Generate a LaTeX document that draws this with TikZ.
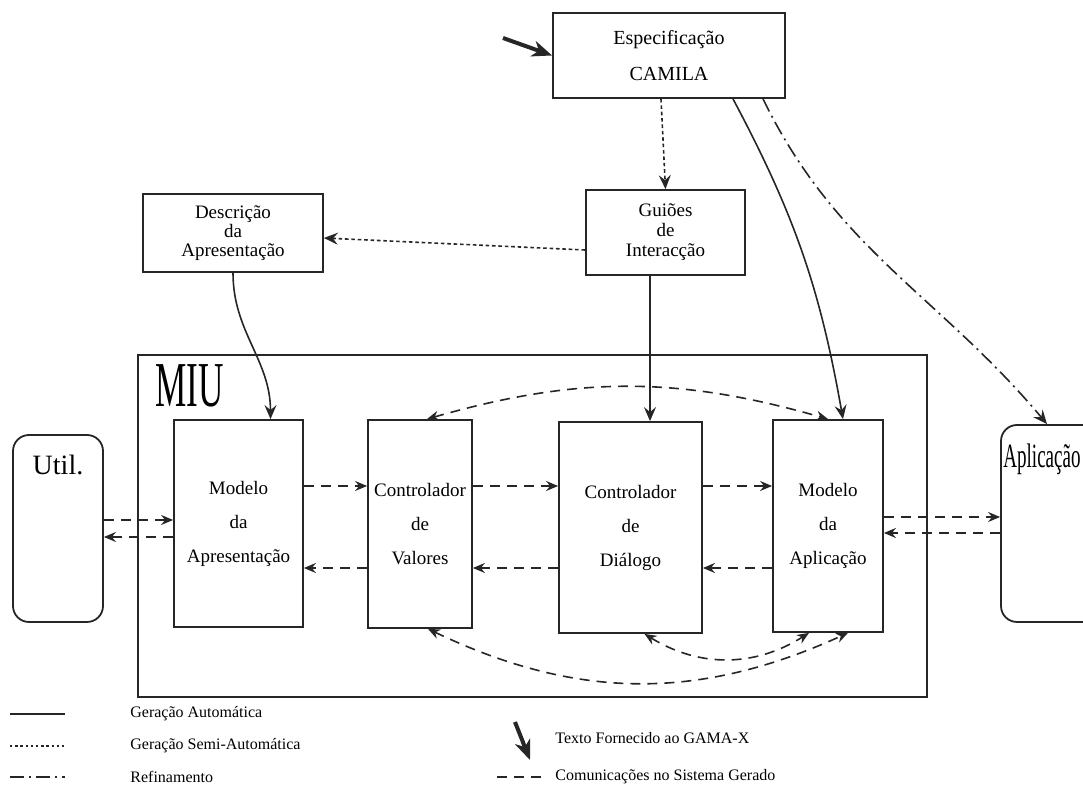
\documentclass[tikz,border=0pt]{standalone}
\usepackage{fontspec}
\setmainfont{Liberation Serif}
\usetikzlibrary{arrows.meta}

\begin{document}
\begin{tikzpicture}[x=0.5pt,y=-0.5pt,
    box/.style={draw=black!85,line width=0.9pt,align=center,inner sep=0pt,font=\fontsize{9.5}{17}\selectfont},
    rbox/.style={draw=black!85,line width=0.9pt,rounded corners=8pt,inner sep=0pt},
    seta/.style={-{Stealth[length=7pt,width=6pt,inset=2.5pt]}},
    gauto/.style={seta,draw=black!85,line width=0.8pt},
    gsemi/.style={seta,draw=black!85,line width=0.8pt,dash pattern=on 1.8pt off 1.4pt},
    refin/.style={seta,draw=black!85,line width=0.8pt,dash pattern=on 7pt off 2.5pt on 1pt off 2.5pt},
    comm/.style={-{Stealth[length=6pt,width=5pt,inset=2pt]},draw=black!85,line width=0.8pt,dash pattern=on 5pt off 3.5pt},
    commboth/.style={comm,{Stealth[length=6pt,width=5pt,inset=2pt]}-{Stealth[length=6pt,width=5pt,inset=2pt]}},
    given/.style={-{Stealth[length=10pt,width=8pt,inset=3pt]},draw=black!85,line width=2pt},
    legtxt/.style={anchor=west,inner sep=0pt,font=\fontsize{8}{8}\selectfont}]
  \useasboundingbox (0,0) rectangle (1083,785);
  \clip (0,0) rectangle (1083,785);

  % caixas de cima
  \node[box,minimum width=116pt,minimum height=42.5pt,font=\fontsize{10}{18}\selectfont] (spec) at (669,55.5) {Especificação\\CAMILA};
  \node[box,minimum width=79.5pt,minimum height=42.5pt,font=\fontsize{9.5}{10}\selectfont] (guioes) at (665.5,232.5) {Guiões\\de\\Interacção};
  \node[box,minimum width=90pt,minimum height=39pt,font=\fontsize{9.5}{9.5}\selectfont] (descr) at (233,233) {Descrição\\da\\Apresentação};

  % MIU
  \node[draw=black!85,line width=1.3pt,minimum width=394.5pt,minimum height=171pt,inner sep=0pt] (miu) at (532.5,526) {};
  \node[anchor=base west,inner sep=0pt] (miulbl) at (155,407) {\scalebox{0.55}[1]{\fontsize{32}{32}\selectfont MIU}};
  \node[box,minimum width=64.5pt,minimum height=103.5pt] (modapr) at (238.5,523.5) {Modelo\\da\\Apresentação};
  \node[box,minimum width=52pt,minimum height=104pt] (ctrlval) at (420,524) {Controlador\\de\\Valores};
  \node[box,minimum width=71.5pt,minimum height=105.5pt] (ctrldia) at (630.5,527.5) {Controlador\\de\\Diálogo};
  \node[box,minimum width=55pt,minimum height=106pt] (modapl) at (828,526) {Modelo\\da\\Aplicação};

  % utilizador e aplicacao
  \node[rbox,minimum width=45pt,minimum height=93.5pt] (util) at (58,528.5) {};
  \node[anchor=base,inner sep=0pt,font=\fontsize{14}{14}\selectfont] (utillbl) at (58,475) {Util.};
  \node[rbox,minimum width=50pt,minimum height=98.5pt] (apl) at (1051,523.5) {};
  \node[anchor=base west,inner sep=0pt] (apllbl) at (1003,468) {\scalebox{0.56}[1]{\fontsize{17}{17}\selectfont Aplicação}};

  % geracao
  \coordinate (txt) at (503,38);
  \draw[given] (txt) -- (spec.west);
  \draw[gsemi] ([xshift=-4pt]spec.south) -- (guioes.north);
  \draw[gsemi] (guioes.west |- 0,250) -- (descr.east |- 0,238);
  \draw[gauto] (descr.south) to[out=-90,in=90] ([xshift=16pt]modapr.north);
  \draw[gauto] (guioes.south -| 650,0) -- (ctrldia.north -| 650,0);
  \draw[gauto] ([xshift=32pt]spec.south) to[out=-62,in=100] ([xshift=7.5pt]modapl.north);
  \draw[refin] ([xshift=47pt]spec.south) to[out=-64,in=130] (apl.north -| 1047,0);

  % comunicacoes
  \coordinate (fwd) at (0,486);
  \coordinate (bwd) at (0,568);
  \draw[comm] (modapr.east |- fwd) -- (ctrlval.west |- fwd);
  \draw[comm] (ctrlval.east |- fwd) -- (ctrldia.west |- fwd);
  \draw[comm] (ctrldia.east |- fwd) -- (modapl.west |- fwd);
  \draw[comm] (modapl.west |- bwd) -- (ctrldia.east |- bwd);
  \draw[comm] (ctrldia.west |- bwd) -- (ctrlval.east |- bwd);
  \draw[comm] (ctrlval.west |- bwd) -- (modapr.east |- bwd);
  \draw[comm] (util.east |- 0,520) -- (modapr.west |- 0,520);
  \draw[comm] (modapr.west |- 0,537) -- (util.east |- 0,537);
  \draw[comm] (modapl.east |- 0,517) -- (apl.west |- 0,517);
  \draw[comm] (apl.west |- 0,533) -- (modapl.east |- 0,533);
  \draw[commboth] ([xshift=3.5pt]ctrlval.north) to[bend left=16] (modapl.north);
  \draw[commboth] ([xshift=4pt]ctrlval.south) to[bend right=25] ([xshift=10pt]modapl.south);
  \draw[commboth] ([xshift=7pt]ctrldia.south) to[bend right=32] ([xshift=-9.5pt]modapl.south);

  % legenda
  \draw[draw=black!85,line width=0.8pt] (10,714) -- (65,714);
  \node[legtxt] (lauto) at (130,714) {Geração Automática};
  \draw[draw=black!85,line width=0.8pt,dash pattern=on 1.2pt off 1.4pt] (10,746) -- (65,746);
  \node[legtxt] (lsemi) at (130,746) {Geração Semi-Automática};
  \draw[draw=black!85,line width=0.8pt,dash pattern=on 7pt off 2.5pt on 1pt off 2.5pt] (10,777) -- (65,777);
  \node[legtxt] (lrefin) at (130,777) {Refinamento};
  \draw[given] (515,722) -- (530,760);
  \node[legtxt] (ltexto) at (555,738) {Texto Fornecido ao GAMA-X};
  \draw[draw=black!85,line width=0.8pt,dash pattern=on 5pt off 3.5pt] (497,777) -- (545,777);
  \node[legtxt] (lcomm) at (555,777) {Comunicações no Sistema Gerado};
\end{tikzpicture}
\end{document}
